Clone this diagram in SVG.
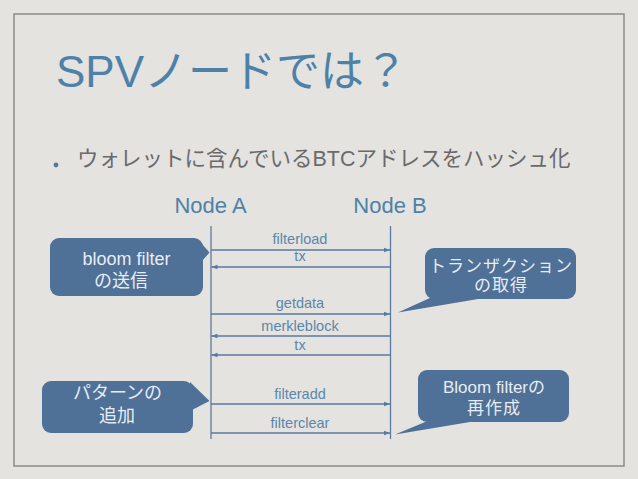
<svg xmlns="http://www.w3.org/2000/svg" width="638" height="479" viewBox="0 0 638 479">
<style>
.lat{font-family:"Liberation Sans",Arial,"Noto Sans CJK JP",sans-serif}
.cjk{font-family:"Liberation Sans","Noto Sans CJK JP",sans-serif}
.title{font-size:44px;fill:#4e81a8}
.bullet{font-size:21.5px;fill:#6a6a6a}
.node{font-size:22px;fill:#4e81a8;text-anchor:middle}
.msg{font-size:14.5px;fill:#5b87ad;text-anchor:middle}
.life{stroke:#5a7aa0;stroke-width:1.3;fill:none}
.arr{stroke:#5a7aa0;stroke-width:1.3;fill:none}
.call{fill:#4f7097}
.ct{font-size:18px;fill:#e8edf3;text-anchor:middle}
.ct2{font-size:17px;fill:#e8edf3;text-anchor:middle}
</style>
<defs>
<marker id="ah" viewBox="0 0 6 6" refX="6" refY="3" markerWidth="6" markerHeight="6" markerUnits="userSpaceOnUse" orient="auto">
<path d="M0,0.8 L6,3 L0,5.2 Z" fill="#5a7aa0"/>
</marker>
</defs>
<rect x="0" y="0" width="638" height="479" fill="#e4e3df"/>
<rect x="14" y="14" width="610" height="452" fill="none" stroke="#8b8b87" stroke-width="1.5"/>
<g id="title">
<text class="cjk title" x="56" y="87">SPVノードでは？</text>
</g>
<g id="bullet">
<circle cx="56" cy="165" r="2.4" fill="#5a7894"/>
<text class="cjk bullet" x="77" y="166">ウォレットに含んでいるBTCアドレスをハッシュ化</text>
</g>
<g id="nodeA">
<text class="lat node" x="210.5" y="213">Node A</text>
<line class="life" x1="211" y1="226" x2="211" y2="439"/>
</g>
<g id="nodeB">
<text class="lat node" x="390" y="213">Node B</text>
<line class="life" x1="390.5" y1="226" x2="390.5" y2="439"/>
</g>
<g id="connectors">
<line class="arr" x1="211" y1="250" x2="390" y2="250" marker-end="url(#ah)"/>
<text class="lat msg" x="300" y="244">filterload</text>
<line class="arr" x1="390.5" y1="267" x2="211.5" y2="267" marker-end="url(#ah)"/>
<text class="lat msg" x="300" y="261">tx</text>
<line class="arr" x1="211" y1="314" x2="390" y2="314" marker-end="url(#ah)"/>
<text class="lat msg" x="300" y="308">getdata</text>
<line class="arr" x1="390.5" y1="336" x2="211.5" y2="336" marker-end="url(#ah)"/>
<text class="lat msg" x="300" y="331">merkleblock</text>
<line class="arr" x1="390.5" y1="355" x2="211.5" y2="355" marker-end="url(#ah)"/>
<text class="lat msg" x="300" y="350">tx</text>
<line class="arr" x1="211" y1="404" x2="390" y2="404" marker-end="url(#ah)"/>
<text class="lat msg" x="300" y="399">filteradd</text>
<line class="arr" x1="211" y1="433" x2="390" y2="433" marker-end="url(#ah)"/>
<text class="lat msg" x="300" y="428">filterclear</text>
</g>
<g id="callout-bloom">
<rect class="call" x="50" y="238" width="153" height="58" rx="9"/>
<polygon class="call" points="202,244 209.5,252.5 202,261"/>
<text class="cjk ct" x="126.5" y="265">bloom filter</text>
<text class="cjk ct" x="121" y="287">の送信</text>
</g>
<g id="callout-tx">
<rect class="call" x="425" y="248" width="151" height="51" rx="9"/>
<polygon class="call" points="432,297 490,297 398,312.5"/>
<text class="cjk ct2" x="501" y="272" letter-spacing="1">トランザクション</text>
<text class="cjk ct2" x="501" y="291" letter-spacing="1">の取得</text>
</g>
<g id="callout-pattern">
<rect class="call" x="42" y="381" width="151" height="52" rx="9"/>
<polygon class="call" points="190,382 209.5,401 190,411"/>
<text class="cjk ct" x="117.5" y="399">パターンの</text>
<text class="cjk ct" x="117" y="422">追加</text>
</g>
<g id="callout-rebuild">
<rect class="call" x="418" y="370" width="151" height="52" rx="9"/>
<polygon class="call" points="430,420 482,420 395,434.5"/>
<text class="cjk ct2" x="494" y="392.5">Bloom filterの</text>
<text class="cjk ct2" x="494" y="414" letter-spacing="1">再作成</text>
</g>
</svg>
